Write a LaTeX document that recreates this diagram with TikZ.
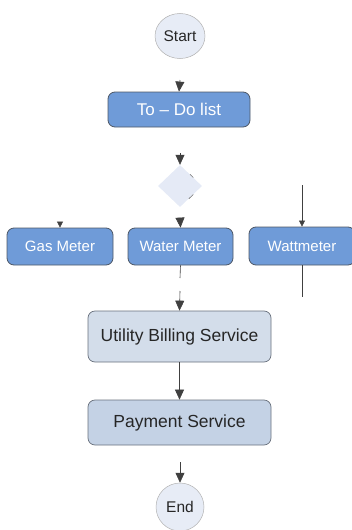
\documentclass[tikz,border=0pt]{standalone}
\usepackage{fontspec}
\setmainfont{Liberation Sans}
\usetikzlibrary{arrows.meta,shapes.geometric,calc}
\definecolor{stepblue}{HTML}{6F9BD8}
\definecolor{stepedge}{HTML}{4E5866}
\definecolor{svcfill}{HTML}{D3DDEA}
\definecolor{payfill}{HTML}{C4D2E5}
\definecolor{termfill}{HTML}{E7ECF6}
\definecolor{decfill}{HTML}{E5EAF6}
\tikzset{
  x=1pt, y=-1pt,
  bluebox/.style={draw=stepedge, line width=0.8pt, fill=stepblue, rounded corners=7pt,
    text=white, inner sep=0pt, font=\fontsize{15}{18}\selectfont},
  svcbox/.style={draw=stepedge!85, line width=0.7pt, rounded corners=7pt,
    text=black!85, inner sep=0pt, minimum width=183pt, font=\fontsize{17.5}{20}\selectfont},
  terminal/.style={ellipse, draw=black!30, line width=0.5pt, fill=termfill, inner sep=0pt,
    text=black!85, font=\fontsize{15.5}{18}\selectfont},
  flow/.style={line width=0.6pt, draw=black!75, -{Triangle[width=9pt,length=10pt]}},
  smallflow/.style={line width=0.6pt, draw=black!75, -{Triangle[width=6pt,length=6pt]}},
  plain/.style={line width=0.6pt, draw=black!75},
}
\begin{document}
\begin{tikzpicture}
\useasboundingbox (0,0) rectangle (352,530);

% terminals
\node[terminal, minimum width=50pt, minimum height=45pt] (start) at (180,36) {Start};
\node[terminal, minimum width=48pt, minimum height=48pt] (end) at (180,507) {End};

% to-do step
\node[bluebox, minimum width=142pt, minimum height=35pt, font=\fontsize{17}{20}\selectfont]
  (todo) at (179,109.5) {To -- Do list};

% decision
\node[diamond, fill=decfill, inner sep=0pt, minimum width=44pt, minimum height=42pt]
  (dec) at (180,186) {};
\draw[black!55, line width=0.6pt] ($(dec.north)!0.45!(dec.east)$) -- ($(dec.north)!0.6!(dec.east)$);
\draw[black!55, line width=0.6pt] ($(dec.east)!0.4!(dec.south)$) -- ($(dec.east)!0.6!(dec.south)$);

% meters
\node[bluebox, minimum width=106pt, minimum height=37pt] (gas) at (60,246.5) {Gas Meter};
\node[bluebox, minimum width=105pt, minimum height=37pt] (water) at (180.5,246.5) {Water Meter};
\node[bluebox, minimum width=106pt, minimum height=38pt] (watt) at (302,246) {Wattmeter};

% services
\node[svcbox, fill=svcfill, minimum height=51pt] (bill) at (179.5,336.5) {Utility Billing Service};
\node[svcbox, fill=payfill, minimum height=45pt] (pay) at (179.5,422.5) {Payment Service};

% free ends of the connectors
\coordinate (c1) at (180,80);
\coordinate (c2) at (180,153);
\coordinate (c3) at (180,218);
\coordinate (c4) at (60,223);
\coordinate (c5) at (302,185);
\coordinate (c6) at (180,278);
\coordinate (c7) at (180,291);
\coordinate (c8) at (302,297);
\coordinate (c9) at (180,462);

% connectors
\draw[flow] (c1) -- (todo.north);
\draw[flow] (c2) -- (dec.north);
\draw[flow] (c3) -- (water.north);
\draw[smallflow] (c4) -- (gas.north);
\draw[smallflow] (c5) -- (watt.north);
\draw[plain] (water.south) -- (c6);
\draw[flow] (c7) -- (bill.north);
\draw[plain] (watt.south) -- (c8);
\draw[flow] (bill.south) -- (pay.north);
\draw[flow] (c9) -- (end.north);
\end{tikzpicture}
\end{document}
